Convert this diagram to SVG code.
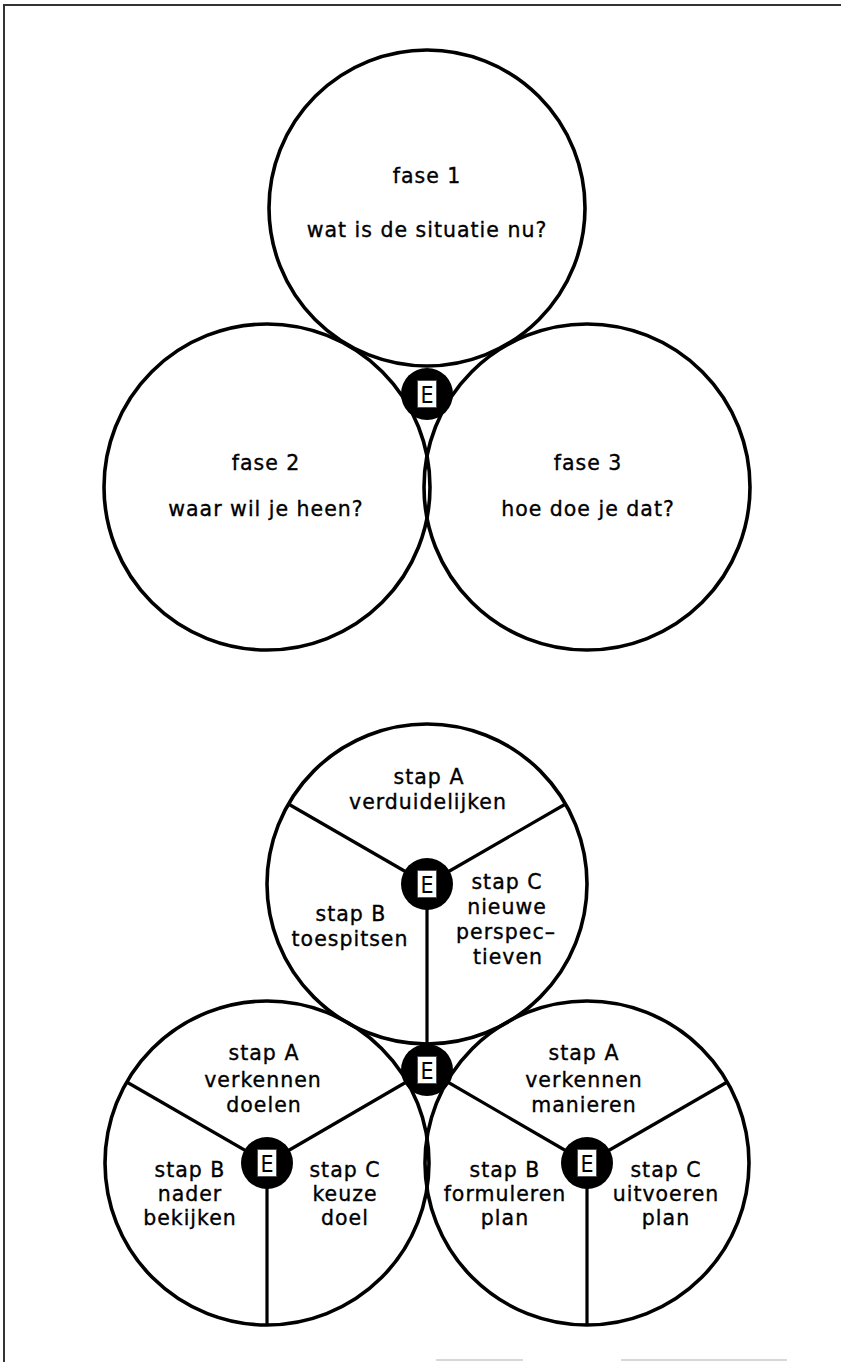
<svg xmlns="http://www.w3.org/2000/svg" width="841" height="1362" viewBox="0 0 841 1362">
<style>
.c{fill:none;stroke:#000;stroke-width:3.6}
.sp{stroke:#000;stroke-width:3.2;fill:none}
.eb{fill:#000}
.eboxr{fill:#fff;stroke:#444;stroke-width:0.8}
.et{font-family:"DejaVu Sans Condensed","DejaVu Sans",sans-serif;font-size:23px;fill:#000;text-anchor:middle}
.t{font-family:"DejaVu Sans",sans-serif;font-size:20.5px;fill:#000;stroke:#000;stroke-width:0.35;text-anchor:middle;letter-spacing:1px}
.bd{stroke:#333;stroke-width:2;fill:none}
.fb{stroke:#ccc;stroke-width:1.5;fill:none}
</style>
<defs>
<g id="E">
<rect class="eboxr" x="-9.5" y="-13.5" width="19" height="27"/>
<text class="et" x="0" y="8.5">E</text>
</g>
</defs>
<g id="frame">
<path class="bd" d="M4 1362 V5 H841"/>
<path class="fb" d="M436 1360 H523 M621 1360 H787"/>
</g>
<g id="fase1">
<circle class="c" cx="427" cy="208" r="158"/>
<text class="t" x="427" y="183">fase 1</text>
<text class="t" x="427" y="237">wat is de situatie nu?</text>
</g>
<g id="fase2">
<circle class="c" cx="267" cy="487" r="163"/>
<text class="t" x="266" y="470">fase 2</text>
<text class="t" x="266" y="516">waar wil je heen?</text>
</g>
<g id="fase3">
<circle class="c" cx="587" cy="487" r="163"/>
<text class="t" x="588" y="470">fase 3</text>
<text class="t" x="588" y="516">hoe doe je dat?</text>
</g>
<g id="e-fase">
<circle class="eb" cx="427" cy="394" r="26"/>
<use href="#E" x="427" y="394"/>
</g>
<g id="connectors">
<line class="sp" x1="427" y1="884" x2="288.4" y2="804"/>
<line class="sp" x1="427" y1="884" x2="565.6" y2="804"/>
<line class="sp" x1="427" y1="884" x2="427" y2="1070"/>
<line class="sp" x1="267" y1="1163" x2="126.7" y2="1082"/>
<line class="sp" x1="267" y1="1163" x2="427" y2="1070"/>
<line class="sp" x1="267" y1="1163" x2="267" y2="1325"/>
<line class="sp" x1="587" y1="1163" x2="427" y2="1070"/>
<line class="sp" x1="587" y1="1163" x2="727.3" y2="1082"/>
<line class="sp" x1="587" y1="1163" x2="587" y2="1325"/>
</g>
<g id="stap-verduidelijken">
<circle class="c" cx="427" cy="884" r="160"/>
<text class="t" x="429" y="784">stap A</text>
<text class="t" x="428" y="809">verduidelijken</text>
<text class="t" x="351" y="921">stap B</text>
<text class="t" x="350" y="946">toespitsen</text>
<text class="t" x="507" y="889">stap C</text>
<text class="t" x="507" y="914">nieuwe</text>
<text class="t" x="506" y="939">perspec–</text>
<text class="t" x="508" y="964">tieven</text>
</g>
<g id="e-verduidelijken">
<circle class="eb" cx="427" cy="884" r="26"/>
<use href="#E" x="427" y="884"/>
</g>
<g id="stap-doelen">
<circle class="c" cx="267" cy="1163" r="162"/>
<text class="t" x="264" y="1060">stap A</text>
<text class="t" x="263" y="1087">verkennen</text>
<text class="t" x="264" y="1112">doelen</text>
<text class="t" x="190" y="1177">stap B</text>
<text class="t" x="190" y="1201">nader</text>
<text class="t" x="190" y="1225">bekijken</text>
<text class="t" x="345" y="1177">stap C</text>
<text class="t" x="345" y="1201">keuze</text>
<text class="t" x="345" y="1225">doel</text>
</g>
<g id="e-doelen">
<circle class="eb" cx="267" cy="1163" r="26"/>
<use href="#E" x="267" y="1163"/>
</g>
<g id="stap-manieren">
<circle class="c" cx="587" cy="1163" r="162"/>
<text class="t" x="584" y="1060">stap A</text>
<text class="t" x="584" y="1087">verkennen</text>
<text class="t" x="584" y="1112">manieren</text>
<text class="t" x="505" y="1177">stap B</text>
<text class="t" x="505" y="1201">formuleren</text>
<text class="t" x="505" y="1225">plan</text>
<text class="t" x="666" y="1177">stap C</text>
<text class="t" x="666" y="1201">uitvoeren</text>
<text class="t" x="666" y="1225">plan</text>
</g>
<g id="e-manieren">
<circle class="eb" cx="587" cy="1163" r="26"/>
<use href="#E" x="587" y="1163"/>
</g>
<g id="e-center">
<circle class="eb" cx="427" cy="1070" r="26"/>
<use href="#E" x="427" y="1070"/>
</g>
</svg>
